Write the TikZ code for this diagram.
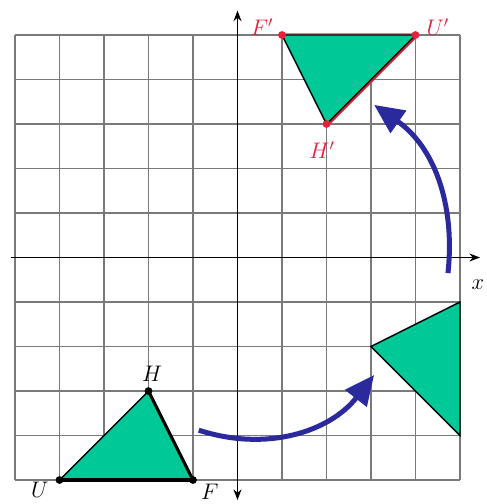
\documentclass[tikz,border=0pt]{standalone}
\usepackage{tikz}
\usetikzlibrary{arrows.meta,positioning,calc}
\definecolor{shapegreen}{HTML}{00C896}
\definecolor{turnblue}{HTML}{2A2A9C}
\definecolor{imgred}{HTML}{E6203A}
\definecolor{gridgray}{HTML}{7A7A7A}
\tikzset{
  gridline/.style={draw=gridgray,line width=0.75pt},
  axisline/.style={-{Stealth[length=2.4mm]},draw=black,line width=0.7pt},
  shapefill/.style={fill=shapegreen,draw=black,line width=0.9pt,line join=miter},
  vertdot/.style={circle,fill=black,inner sep=0pt,minimum size=5pt},
  imgdot/.style={circle,fill=imgred,inner sep=0pt,minimum size=5pt},
  ptlabel/.style={font=\fontsize{14}{16}\selectfont,inner sep=1pt},
  imglabel/.style={ptlabel,text=imgred},
  turnarrow/.style={-{Triangle[length=19pt,width=17pt]},draw=turnblue,line width=3.2pt}
}
\begin{document}
\begin{tikzpicture}
  \useasboundingbox (-5.337,-5.539) rectangle (5.607,5.787);
  % grid and axes
  \draw[gridline] (-5,-5) grid (5,5);
  \draw[axisline] (-5.1,0) -- (5.45,0);
  \draw[axisline] (0,0) -- (0,5.55);
  \draw[axisline] (0,0) -- (0,-5.45);
  \node[ptlabel] (xlab) at (5.4,-0.6) {$x$};
  % original triangle
  \coordinate (U) at (-4,-5);
  \coordinate (F) at (-1,-5);
  \coordinate (H) at (-2,-3);
  \filldraw[shapefill] (U) -- (F) -- (H) -- cycle;
  \draw[line width=3pt] (U) -- (F);
  \draw[line width=2pt] (H) -- (F);
  \node[vertdot] at (U) {};
  \node[vertdot] at (F) {};
  \node[vertdot] at (H) {};
  \node[ptlabel] (Ulab) at (-4.44,-5.22) {$U$};
  \node[ptlabel] (Flab) at (-0.62,-5.27) {$F$};
  \node[ptlabel] (Hlab) at (-1.92,-2.62) {$H$};
  % after first turn
  \filldraw[shapefill] (5,-4) -- (5,-1) -- (3,-2) -- cycle;
  % final image
  \coordinate (U2) at (4,5);
  \coordinate (F2) at (1,5);
  \coordinate (H2) at (2,3);
  \draw[draw=imgred!60,line width=2.5pt] (F2) -- (U2);
  \draw[draw=imgred,line width=3.5pt,line cap=round] (U2) -- (H2);
  \filldraw[shapefill] (U2) -- (F2) -- (H2) -- cycle;
  \node[imgdot] at (U2) {};
  \node[imgdot] at (F2) {};
  \node[imgdot] at (H2) {};
  \node[imglabel] (U2lab) at (4.5,5.18) {$U'$};
  \node[imglabel] (F2lab) at (0.55,5.18) {$F'$};
  \node[imglabel] (H2lab) at (1.9,2.42) {$H'$};
  % turning arrows
  \coordinate (a1) at (-0.87,-3.88);
  \coordinate (b1) at (3.07,-2.64);
  \coordinate (a2) at (4.73,-0.35);
  \coordinate (b2) at (3.07,3.43);
  \draw[turnarrow] (a1) to[out=-18,in=-128] (b1);
  \draw[turnarrow] (a2) to[out=84,in=-35] (b2);
\end{tikzpicture}
\end{document}
